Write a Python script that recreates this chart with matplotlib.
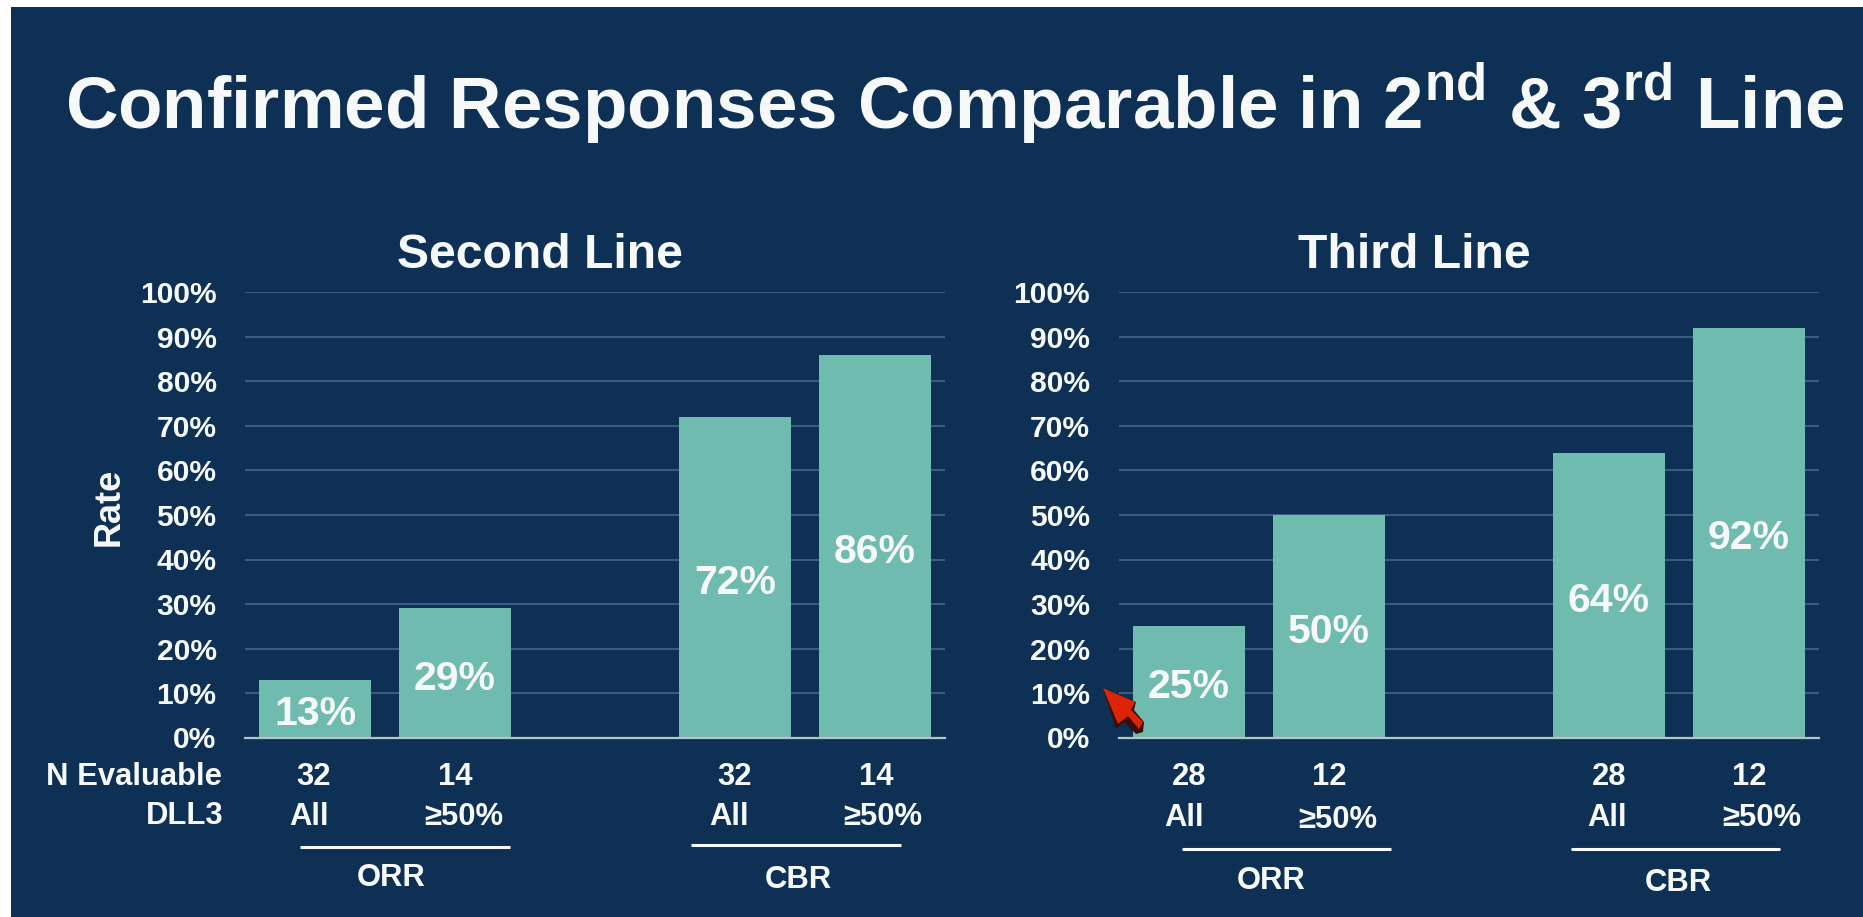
#!/usr/bin/python
"""Slide: confirmed response rates in second and third line."""
import matplotlib
matplotlib.use('Agg')
import matplotlib.pyplot as plt
from matplotlib.patches import Polygon, Rectangle
from matplotlib import rcParams

# Settings
rcParams['font.family'] = ['Liberation Sans', 'DejaVu Sans']
rcParams['font.weight'] = 'bold'
rcParams['mathtext.fontset'] = 'custom'
rcParams['mathtext.bf'] = 'Liberation Sans:bold'
rcParams['mathtext.rm'] = 'Liberation Sans:bold'

W, H = 1863, 917
BG = '#0d3054'
BAR = '#70bbb0'
GRID = '#3d5b7c'
BASE = '#b4c3cb'
TEXT = '#f7f9f8'

# Data
positions = [0, 1, 3, 4]
second_line = [13, 29, 72, 86]
third_line = [25, 50, 64, 92]
second_n = ['32', '14', '32', '14']
third_n = ['28', '12', '28', '12']
dll3 = ['All', '\u226550%', 'All', '\u226550%']
y_ticks = list(range(0, 101, 10))
y_labels = ['%d%%' % v for v in y_ticks]


def px_text(x, y, s, size=22.3, ha='center', va='center', **kw):
    """Text placed in picture pixels, y measured from the top."""
    return fig.text(x/W, 1 - y/H, s, size=size, ha=ha, va=va, color=TEXT,
                    fontweight='bold', **kw)


def px_axes(left, right, top, bottom):
    return fig.add_axes([left/W, 1 - bottom/H, (right - left)/W, (bottom - top)/H])


def px_hline(x0, x1, y):
    fig.add_artist(plt.Line2D([x0/W, x1/W], [1 - y/H, 1 - y/H], color=TEXT, lw=2.2,
                              solid_capstyle='butt'))


def draw_panel(ax, values):
    ax.set_facecolor('none')
    ax.bar(positions, values, width=0.8, color=BAR, zorder=2)
    ax.set_xlim(-0.5, 4.5)
    ax.set_ylim(0, 100)
    ax.set_yticks(y_ticks)
    ax.set_yticklabels(y_labels, size=21.6, color=TEXT, fontweight='bold')
    ax.set_xticks([])
    ax.tick_params(axis='y', length=0, pad=20.5)
    ax.grid(axis='y', color=GRID, lw=1.5, zorder=1)
    ax.set_axisbelow(True)
    for name in ['left', 'right', 'top']:
        ax.spines[name].set_visible(False)
    ax.spines['bottom'].set_color(BASE)
    ax.spines['bottom'].set_linewidth(1.6)
    ax.spines['bottom'].set_zorder(3)
    # Value labels sit a little under the middle of each bar
    for x, v in zip(positions, values):
        ax.annotate('%d%%' % v, (x, v/2.0), xytext=(0, -4), textcoords='offset points',
                    size=29.5, ha='center', va='center', color=TEXT,
                    fontweight='bold', zorder=4)


# Plot
fig = plt.figure(figsize=(W/100.0, H/100.0), dpi=100, facecolor='white')
fig.add_artist(Rectangle((11.0/W, 0), 1 - 11.0/W, 1 - 7.0/H, transform=fig.transFigure,
                         facecolor=BG, edgecolor='none', zorder=-5))

draw_panel(px_axes(245, 945, 292.5, 737.5), second_line)
draw_panel(px_axes(1118.5, 1818.5, 292.5, 737.5), third_line)

# Headings
px_text(65, 128, r'Confirmed Responses Comparable in 2$^{\mathbf{nd}}$ & 3$^{\mathbf{rd}}$ Line',
        size=52.4, ha='left', va='baseline')
px_text(539.5, 268, 'Second Line', size=34.7, va='baseline')
px_text(1414, 268, 'Third Line', size=34.7, va='baseline')
px_text(109, 507, 'Rate', size=26, rotation=90)

# Rows under the bars
px_text(222, 777, 'N Evaluable', ha='right')
px_text(223, 816, 'DLL3', ha='right')
for x, s in zip([314, 455, 735, 876], second_n):
    px_text(x, 777, s)
for x, s in zip([309, 464, 729, 883], dll3):
    px_text(x, 817, s)
for x, s in zip([1189, 1329, 1609, 1749], third_n):
    px_text(x, 777, s)
for x, y, s in zip([1184, 1338, 1607, 1762], [818, 820, 818, 818], dll3):
    px_text(x, y, s)

# Group brackets
px_hline(300, 510, 847)
px_hline(691, 901, 845)
px_hline(1182, 1391, 849)
px_hline(1571, 1780, 849)
px_text(391, 878, 'ORR')
px_text(798, 880, 'CBR')
px_text(1271, 881, 'ORR')
px_text(1678, 883, 'CBR')

# Pointer left on the slide
shadow = [(1103, 688), (1116, 729), (1124, 722), (1136, 734), (1143, 732), (1144, 722),
          (1134, 710), (1136, 702)]
pointer = [(1103, 688), (1135, 702), (1131, 710), (1143, 722), (1139, 729), (1128, 716),
           (1118, 724)]
for pts, col in [(shadow, '#3a0d0a'), (pointer, '#dc2408')]:
    fig.add_artist(Polygon([(x/W, 1 - y/H) for x, y in pts], closed=True,
                           transform=fig.transFigure, facecolor=col, edgecolor='none',
                           zorder=6))

fig.savefig('out.png', dpi=100, facecolor=fig.get_facecolor())
